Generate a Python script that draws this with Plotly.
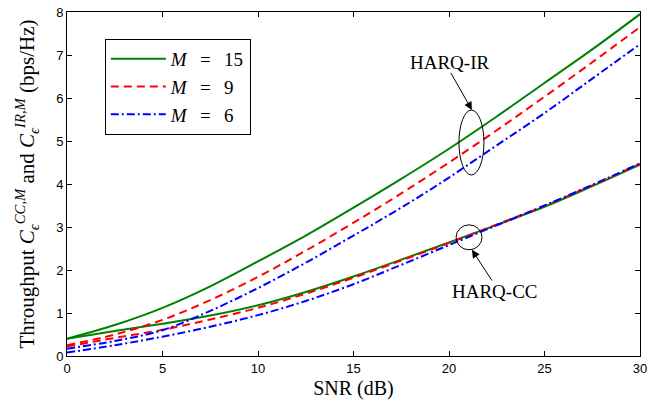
import plotly.graph_objects as go

snr = [0, 2.5, 5, 7.5, 10, 12.5, 15, 17.5, 20, 22.5, 25, 27.5, 30]

ir_m15 = [0.40, 0.72, 1.12, 1.62, 2.20, 2.80, 3.45, 4.12, 4.82, 5.57, 6.35, 7.13, 7.95]
ir_m9 = [0.25, 0.50, 0.84, 1.30, 1.84, 2.45, 3.10, 3.78, 4.50, 5.25, 6.03, 6.83, 7.65]
ir_m6 = [0.17, 0.35, 0.60, 1.05, 1.58, 2.17, 2.80, 3.45, 4.15, 4.90, 5.65, 6.45, 7.25]

cc_m15 = [0.40, 0.58, 0.75, 0.94, 1.18, 1.49, 1.85, 2.24, 2.64, 3.05, 3.47, 3.95, 4.45]
cc_m9 = [0.22, 0.42, 0.61, 0.85, 1.12, 1.45, 1.82, 2.22, 2.63, 3.06, 3.49, 3.97, 4.47]
cc_m6 = [0.08, 0.25, 0.45, 0.68, 0.95, 1.28, 1.67, 2.12, 2.58, 3.04, 3.50, 3.98, 4.48]

sp = "\u2002\u2009"
legend_names = [f"<i>M</i>{sp}={sp}15", f"<i>M</i>{sp}={sp}9", f"<i>M</i>{sp}={sp}6"]
x_ticks = [0, 5, 10, 15, 20, 25, 30]
y_ticks = [0, 1, 2, 3, 4, 5, 6, 7, 8]

styles = [
    dict(color="rgb(0,128,0)", dash="solid"),
    dict(color="rgb(255,0,0)", dash="8px,5px"),
    dict(color="rgb(0,0,255)", dash="8px,3px,2px,3px"),
]

fig = go.Figure()
for i, (ir, cc) in enumerate([(ir_m15, cc_m15), (ir_m9, cc_m9), (ir_m6, cc_m6)]):
    st = styles[i]
    fig.add_trace(go.Scatter(x=snr, y=ir, mode="lines", name=legend_names[i],
                             line=dict(color=st["color"], dash=st["dash"], width=2, shape="spline"),
                             legendgroup=str(i)))
    fig.add_trace(go.Scatter(x=snr, y=cc, mode="lines", name=legend_names[i], showlegend=False,
                             line=dict(color=st["color"], dash=st["dash"], width=2, shape="spline"),
                             legendgroup=str(i)))

# ellipses
fig.add_shape(type="circle", xref="x", yref="y", x0=20.52, x1=21.83, y0=4.21, y1=5.72,
              line=dict(color="black", width=1))
fig.add_shape(type="circle", xref="x", yref="y", x0=20.37, x1=21.73, y0=2.47, y1=3.05,
              line=dict(color="black", width=1))

serif = "Liberation Serif, DejaVu Serif, serif"

fig.add_annotation(x=21.2, y=5.72, ax=20.05, ay=6.62, xref="x", yref="y", axref="x", ayref="y",
                   text="", showarrow=True, arrowhead=2, arrowsize=1.6, arrowwidth=1, arrowcolor="black")
fig.add_annotation(x=20.05, y=6.82, xref="x", yref="y", text="HARQ-IR", showarrow=False,
                   font=dict(family=serif, size=19, color="black"))
fig.add_annotation(x=21.2, y=2.47, ax=22.3, ay=1.72, xref="x", yref="y", axref="x", ayref="y",
                   text="", showarrow=True, arrowhead=2, arrowsize=1.6, arrowwidth=1, arrowcolor="black")
fig.add_annotation(x=22.4, y=1.49, xref="x", yref="y", text="HARQ-CC", showarrow=False,
                   font=dict(family=serif, size=19, color="black"))

axis_common = dict(showline=True, linecolor="black", linewidth=1, mirror="ticks",
                   ticks="inside", ticklen=5, tickcolor="black", showgrid=False, zeroline=False,
                   automargin=False,
                   tickfont=dict(family="Liberation Sans, Arial, sans-serif", size=13, color="black"))

fig.update_layout(
    width=657, height=407,
    margin=dict(l=67, r=17, t=12, b=51),
    paper_bgcolor="white", plot_bgcolor="white",
    xaxis=dict(range=[0, 30], tickvals=x_ticks,
               title=dict(text="SNR (dB)", font=dict(family=serif, size=20, color="black"), standoff=6),
               **axis_common),
    yaxis=dict(range=[0, 8], tickvals=y_ticks,
               title=dict(text="Throughput <i>C</i><sub><i>ϵ</i></sub><sup><i>CC,M</i></sup> and <i>C</i><sub><i>ϵ</i></sub><sup><i>IR,M</i></sup> (bps/Hz)",
                          font=dict(family=serif, size=21, color="black")),
               **axis_common),
    legend=dict(x=0.066, y=0.9215, xanchor="left", yanchor="top",
                bordercolor="black", borderwidth=1, bgcolor="white",
                font=dict(family=serif, size=19, color="black"),
                tracegroupgap=0, itemwidth=55),
    showlegend=True,
)

fig.write_html("out.html", config={"displayModeBar": False},
               post_script="document.body.style.margin='0';document.body.style.overflow='hidden';")
